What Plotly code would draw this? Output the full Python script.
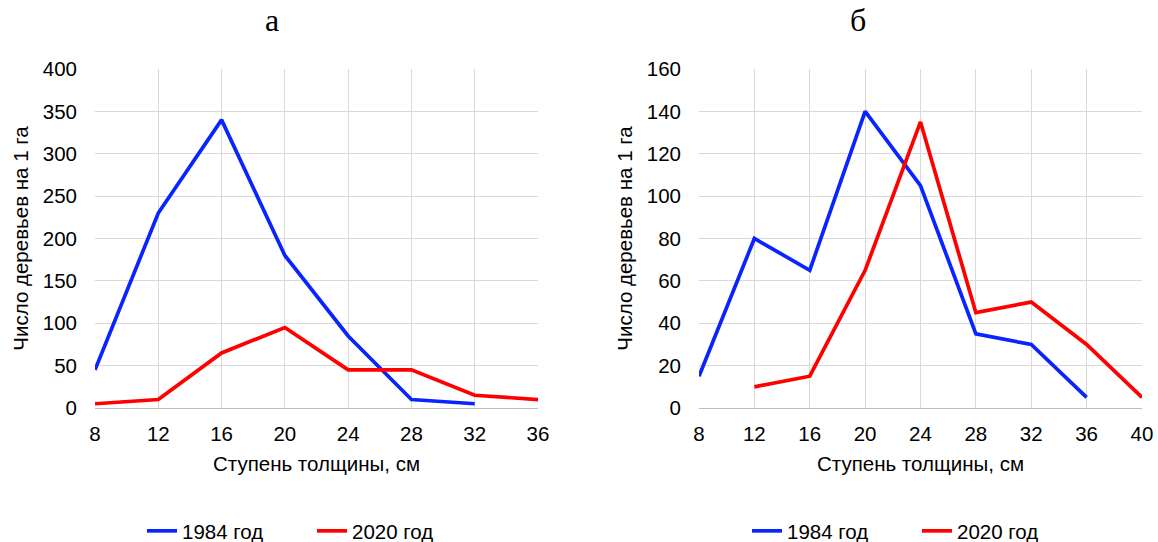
import plotly.graph_objects as go
from plotly.subplots import make_subplots

# Panel а
x_a_1984 = [8, 12, 16, 20, 24, 28, 32]
y_a_1984 = [45, 230, 340, 180, 85, 10, 5]
x_a_2020 = [8, 12, 16, 20, 24, 28, 32, 36]
y_a_2020 = [5, 10, 65, 95, 45, 45, 15, 10]

# Panel б
x_b_1984 = [8, 12, 16, 20, 24, 28, 32, 36]
y_b_1984 = [15, 80, 65, 140, 105, 35, 30, 5]
x_b_2020 = [12, 16, 20, 24, 28, 32, 36, 40]
y_b_2020 = [10, 15, 65, 135, 45, 50, 30, 5]

series_names = ["1984 год", "2020 год"]
panel_titles = ["а", "б"]
x_title = "Ступень толщины, см"
y_title = "Число деревьев на 1 га"

BLUE = "#0a24ff"
RED = "#ff0000"
W, H = 1158, 542

fig = make_subplots(rows=1, cols=2)

fig.add_trace(go.Scatter(x=x_a_1984, y=y_a_1984, mode="lines", name=series_names[0],
                         line=dict(color=BLUE, width=3.7), legend="legend"), row=1, col=1)
fig.add_trace(go.Scatter(x=x_a_2020, y=y_a_2020, mode="lines", name=series_names[1],
                         line=dict(color=RED, width=3.7), legend="legend"), row=1, col=1)
fig.add_trace(go.Scatter(x=x_b_1984, y=y_b_1984, mode="lines", name=series_names[0],
                         line=dict(color=BLUE, width=3.7), legend="legend2"), row=1, col=2)
fig.add_trace(go.Scatter(x=x_b_2020, y=y_b_2020, mode="lines", name=series_names[1],
                         line=dict(color=RED, width=3.7), legend="legend2"), row=1, col=2)

for tr in fig.data:
    tr.cliponaxis = False

font = dict(family="Liberation Sans, Arial", size=20.5, color="#000")
ydom = [(H - 408) / H, (H - 69) / H]
common_x = dict(showgrid=True, gridcolor="#d9d9d9", gridwidth=1.3, showline=True,
                linecolor="#bfbfbf", linewidth=1.3, zeroline=False, ticks="",
                tickfont=font, dtick=4, tick0=8, ticklen=0, automargin=False,
                ticklabelstandoff=7)
common_y = dict(showgrid=True, gridcolor="#d9d9d9", gridwidth=1.3, showline=False,
                zeroline=False, ticks="", tickfont=font, automargin=False,
                ticklabelstandoff=17)

fig.update_xaxes(common_x, row=1, col=1, range=[8, 36], domain=[95 / W, 538 / W],
                 title=dict(text=x_title, font=font, standoff=12))
fig.update_xaxes(common_x, row=1, col=2, range=[8, 40], domain=[699 / W, 1142 / W],
                 title=dict(text=x_title, font=font, standoff=12))
fig.update_yaxes(common_y, row=1, col=1, range=[0, 400], dtick=50, domain=ydom,
                 title=dict(text=y_title, font=font, standoff=8))
fig.update_yaxes(common_y, row=1, col=2, range=[0, 160], dtick=20, domain=ydom,
                 title=dict(text=y_title, font=font, standoff=8))

serif = dict(family="Liberation Serif, Times New Roman", size=32, color="#000")
fig.add_annotation(text=panel_titles[0], x=263 / W, y=1 - 20 / H, xref="paper", yref="paper",
                   showarrow=False, font=serif, yanchor="middle")
fig.add_annotation(text=panel_titles[1], x=868 / W, y=1 - 20 / H, xref="paper", yref="paper",
                   showarrow=False, font=serif, yanchor="middle")

leg = dict(orientation="h", xanchor="left", yanchor="middle", font=font,
           bgcolor="rgba(0,0,0,0)", entrywidth=125, entrywidthmode="pixels",
           tracegroupgap=0)
fig.update_layout(
    width=W, height=H,
    margin=dict(l=0, r=0, t=0, b=0, autoexpand=False),
    paper_bgcolor="white", plot_bgcolor="white",
    font=font,
    showlegend=True,
    legend=dict(leg, x=142 / W, y=1 - 531 / H),
    legend2=dict(leg, x=747 / W, y=1 - 531 / H),
)

fig.write_html("out.html")
